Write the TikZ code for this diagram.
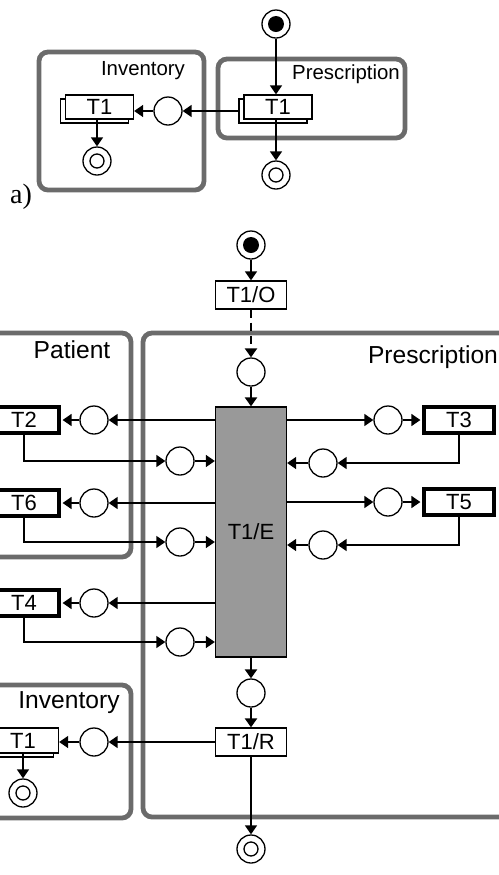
\documentclass[tikz,border=0pt]{standalone}
\usepackage{fontspec}
\setmainfont{Liberation Sans}
\newfontfamily\serifschrift{Liberation Serif}
\usetikzlibrary{arrows.meta,shadows}

\tikzset{
  pfeil/.style={-{Triangle[length=4.5pt,width=6pt]}, line width=0.8pt},
  dick/.style={line width=1.4pt},
  stelle/.style={circle, draw, line width=0.65pt, fill=white, minimum size=14pt, inner sep=0pt},
  marke/.style={stelle, path picture={\fill[black] (path picture bounding box.center) circle (4pt);}},
  ende/.style={stelle, path picture={\draw[black, line width=0.65pt] (path picture bounding box.center) circle (3.5pt);}},
  trans/.style={rectangle, draw, line width=0.65pt, fill=white, minimum width=35.5pt,
    minimum height=14pt, inner sep=0pt, font=\fontsize{11}{13}\selectfont},
  extern/.style={trans, line width=1.8pt, minimum width=35pt, minimum height=13.2pt},
  stapel/.style={trans, minimum height=12.5pt, copy shadow={shadow xshift=-2.5pt, shadow yshift=-2pt}},
  gruppe/.style={draw=black!58, line width=2.4pt, rounded corners=4.5pt},
  titel/.style={anchor=base, font=\fontsize{12.3}{14}\selectfont},
  titelklein/.style={anchor=base, font=\fontsize{10.2}{12}\selectfont},
}

\begin{document}
\begin{tikzpicture}[x=0.5pt, y=-0.5pt]
  \useasboundingbox (0,0) rectangle (499,875);

  % a) Gruppen
  \draw[gruppe] (39,52) rectangle (204,190);
  \draw[gruppe] (218,59) rectangle (405,138);
  \node[titelklein] (invA) at (143,75) {Inventory};
  \node[titelklein] (preA) at (346,79) {Prescription};
  \node[anchor=base, font=\serifschrift\fontsize{14}{16}\selectfont] (labA) at (21,203) {a)};
  % a) Netz
  \node[marke] (mA) at (276,24) {};
  \node[stapel, minimum width=34pt, minimum height=12pt] (tpA) at (278,107) {T1};
  \node[stelle] (sA) at (168,111) {};
  \node[stapel, minimum width=34pt, minimum height=12pt] (tiA) at (99.5,107) {T1};
  \node[ende] (eiA) at (97,161) {};
  \node[ende] (epA) at (276,175) {};
  \draw[pfeil] (mA) -- (mA |- tpA.north);
  \draw[pfeil] ([xshift=-2.5pt,yshift=-2pt]tpA.west) -- (sA);
  \draw[pfeil] (sA) -- (sA -| tiA.east);
  \draw[pfeil] (eiA |- tiA.south) -- (eiA);
  \draw[pfeil] (epA |- tpA.south) -- (epA);

  % b) Gruppen
  \draw[gruppe] (-10,333) rectangle (131,557);
  \draw[gruppe] (-10,685) rectangle (131,818);
  \draw[gruppe] (143,333) rectangle (515,817);
  \node[titel] (patB) at (72,358) {Patient};
  \node[titel] (preB) at (433,363) {Prescription};
  \node[titel] (invB) at (69,708) {Inventory};

  % b) Hauptablauf
  \node[marke] (mB) at (251,245) {};
  \node[trans] (tO) at (251,295) {T1/O};
  \node[stelle] (sS) at (251,372) {};
  \node[trans, fill=black!40, minimum height=125pt] (tE) at (251,532) {T1/E};
  \node[stelle] (sF) at (251,693) {};
  \node[trans] (tR) at (251,742) {T1/R};
  \node[ende] (eR) at (251,849) {};

  % b) Patient
  \node[extern] (t2) at (24,420) {T2};
  \node[stelle] (s2a) at (94,420) {};
  \node[stelle] (s2b) at (180,461) {};
  \node[extern] (t6) at (24,503) {T6};
  \node[stelle] (s6a) at (94,503) {};
  \node[stelle] (s6b) at (180,542) {};
  \node[extern] (t4) at (24,603) {T4};
  \node[stelle] (s4a) at (94,603) {};
  \node[stelle] (s4b) at (180,642) {};

  % b) Prescription rechts
  \node[extern] (t3) at (459,420) {T3};
  \node[stelle] (s3a) at (388,420) {};
  \node[stelle] (s3b) at (323,463) {};
  \node[extern] (t5) at (459,502) {T5};
  \node[stelle] (s5a) at (388,502) {};
  \node[stelle] (s5b) at (323,545) {};

  % b) Inventory
  \node[stapel] (tI) at (23,740.5) {T1};
  \node[stelle] (sI) at (94,742) {};
  \node[ende] (eI) at (23,793) {};

  % b) Kanten
  \draw[pfeil] (mB) -- (tO);
  \draw[pfeil, dick, dash pattern=on 4pt off 2.5pt] (tO) -- (sS);
  \draw[pfeil, dick] (sS) -- (tE);
  \draw[pfeil, dick] (tE) -- (sF);
  \draw[pfeil, dick] (sF) -- (tR);
  \draw[pfeil] (tR) -- (eR);
  \draw[pfeil] (tR) -- (sI);
  \draw[pfeil] (sI) -- (sI -| tI.east);
  \draw[pfeil] (eI |- tI.south) -- (eI);
  \foreach \t/\a/\b in {t2/s2a/s2b, t6/s6a/s6b, t4/s4a/s4b} {
    \draw[pfeil] (tE.west |- \a) -- (\a);
    \draw[pfeil, shorten >=0.9pt] (\a) -- (\t);
    \draw[pfeil] (\t.south) |- (\b);
    \draw[pfeil] (\b) -- (tE.west |- \b);
  }
  \foreach \t/\a/\b in {t3/s3a/s3b, t5/s5a/s5b} {
    \draw[pfeil] (tE.east |- \a) -- (\a);
    \draw[pfeil, shorten >=0.9pt] (\a) -- (\t);
    \draw[pfeil] (\t.south) |- (\b);
    \draw[pfeil] (\b) -- (tE.east |- \b);
  }
\end{tikzpicture}
\end{document}
